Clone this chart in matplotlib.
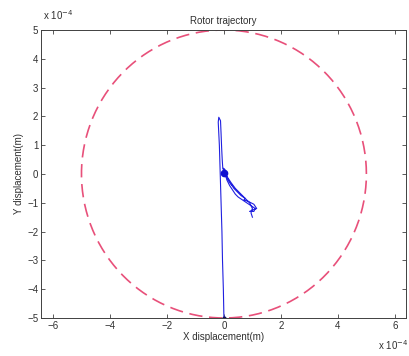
import numpy as np
import matplotlib
matplotlib.use("Agg")
import matplotlib.pyplot as plt

# Trajectory (units of 1e-4 m)
traj_x = [0.0, -0.02, -0.05, -0.07, -0.1, -0.13, -0.16, -0.2, -0.18, -0.12, -0.1, -0.08, -0.06, -0.04,
          0.0, 0.05, -0.03, 0.04, -0.02, 0.06, 0.0, 0.08, 0.15, 0.1, 0.2, 0.3, 0.25, 0.35, 0.45, 0.55,
          0.6, 0.75, 0.7, 0.85, 0.95, 1.05, 1.15, 1.0, 0.9, 1.05, 1.1, 0.95, 0.8, 0.65, 0.5, 0.4, 0.3,
          0.2, 0.1, 0.05, 0.15, 0.25, 0.4, 0.55, 0.65, 0.8, 0.9, 1.0, 0.95, 1.0]
traj_y = [-5.0, -4.0, -3.0, -2.0, -1.0, 0.0, 1.0, 1.8, 1.97, 1.85, 1.4, 0.9, 0.5, 0.2,
          0.1, 0.0, -0.05, 0.15, 0.2, 0.05, -0.05, -0.1, -0.2, -0.1, -0.3, -0.4, -0.35, -0.5, -0.6, -0.7,
          -0.75, -0.85, -0.9, -0.95, -1.0, -1.05, -1.2, -1.25, -1.3, -1.3, -1.2, -1.1, -1.0, -0.9, -0.8, -0.7, -0.55,
          -0.4, -0.2, 0.0, -0.15, -0.3, -0.5, -0.65, -0.75, -0.9, -1.0, -1.2, -1.35, -1.5]
radius = 5.0
xticks = [-6, -4, -2, 0, 2, 4, 6]
yticks = [-5, -4, -3, -2, -1, 0, 1, 2, 3, 4, 5]

plt.rcParams['font.family'] = ['Liberation Sans', 'DejaVu Sans']
fig = plt.figure(figsize=(4.1, 3.56), dpi=100)
ax = fig.add_axes([41/410, 1-318/356, 365/410, 288/356])

th = np.linspace(0, 2*np.pi, 400)
ax.plot(radius*np.cos(th), radius*np.sin(th), color='#e8507a', lw=1.2, dashes=(8, 4))
ax.plot(traj_x, traj_y, color='#2020e0', lw=0.8)
ax.plot([0.0], [0.05], 'o', color='#1010d0', ms=4.5)
ax.plot([0.0], [-5.0], 'o', color='#101060', ms=2)

ax.set_xlim(-6.42, 6.39)
ax.set_ylim(-5, 5)
ax.set_xticks(xticks)
ax.set_yticks(yticks)
ax.tick_params(direction='in', top=True, right=True, labelsize=7, length=3, width=0.6, pad=2,
               colors='#404040', labelcolor='#303030')
for s in ax.spines.values():
    s.set_linewidth(0.7)
    s.set_color('#404040')
ax.set_title('Rotor trajectory', fontsize=7, pad=4, color='#303030')
ax.set_xlabel('X displacement(m)', fontsize=7, labelpad=1, color='#303030')
ax.set_ylabel('Y displacement(m)', fontsize=7, labelpad=2, color='#303030')
fig.text(43/410, 1-15/356, r'x 10$^{-4}$', fontsize=7, va='center', color='#303030')
fig.text(378/410, 1-345/356, r'x 10$^{-4}$', fontsize=7, va='center', color='#303030')
fig.savefig('out.png', dpi=100)
